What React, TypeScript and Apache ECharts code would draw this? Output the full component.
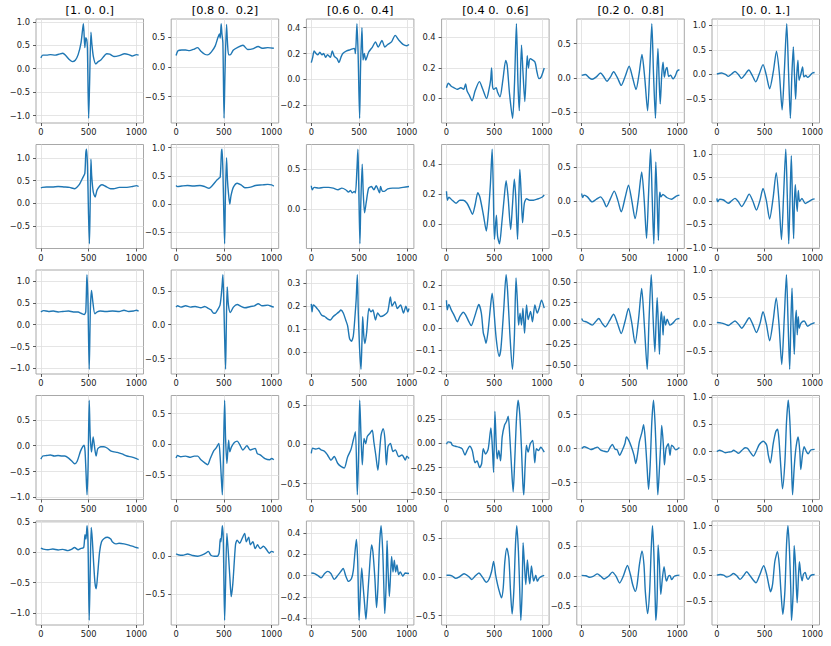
import React, { useEffect, useRef } from "react";
import * as echarts from "echarts";

type P = [number, number];

const colTitles = ["[1. 0. 0.]", "[0.8 0.  0.2]", "[0.6 0.  0.4]", "[0.4 0.  0.6]", "[0.2 0.  0.8]", "[0. 0. 1.]"];
const xTicks = [0, 500, 1000];
const xRange = [-51, 1074];

const r1c1: P[] = [[0,0.23],[20,0.29],[60,0.29],[100,0.30],[150,0.29],[190,0.31],[230,0.33],[260,0.28],[300,0.19],[330,0.15],[360,0.18],[390,0.30],[420,0.55],[445,0.96],[460,0.45],[470,0.66],[480,0.62],[487,0.44],[500,-1.06],[510,-0.3],[524,0.78],[534,0.52],[550,0.25],[575,0.1],[600,0.15],[630,0.19],[690,0.32],[720,0.31],[765,0.26],[820,0.28],[876,0.32],[920,0.3],[955,0.27],[1000,0.3],[1023,0.29]];
const r1c2: P[] = [[0,0.19],[20,0.27],[60,0.28],[100,0.28],[140,0.27],[180,0.29],[225,0.32],[260,0.26],[300,0.21],[330,0.2],[370,0.25],[410,0.35],[440,0.5],[455,0.55],[462,0.48],[472,0.72],[480,0.55],[490,0.4],[502,-0.86],[512,-0.1],[528,0.71],[538,0.4],[550,0.2],[565,0.2],[600,0.28],[650,0.33],[700,0.36],[750,0.29],[800,0.3],[860,0.34],[900,0.31],[960,0.32],[1023,0.31]];
const r1c3: P[] = [[0,0.13],[15,0.17],[30,0.22],[50,0.2],[70,0.19],[90,0.21],[110,0.19],[130,0.2],[150,0.17],[170,0.19],[200,0.17],[220,0.22],[240,0.18],[270,0.16],[290,0.13],[310,0.17],[330,0.2],[370,0.22],[410,0.23],[450,0.24],[462,0.2],[478,0.43],[490,0.2],[506,-0.3],[516,0.1],[530,0.4],[542,0.15],[555,0.2],[570,0.15],[600,0.21],[640,0.25],[672,0.29],[700,0.25],[740,0.3],[770,0.25],[800,0.27],[840,0.29],[878,0.34],[920,0.3],[960,0.27],[1000,0.26],[1023,0.27]];
const r1c4: P[] = [[0,0.07],[20,0.1],[50,0.08],[80,0.07],[110,0.06],[150,0.07],[180,0.06],[200,0.095],[215,0.05],[240,0.02],[268,-0.015],[300,0.05],[345,0.11],[380,0.06],[420,0.0],[445,0.06],[462,0.12],[472,0.2],[482,0.08],[495,0.06],[520,0.07],[535,0.04],[560,0.01],[590,0.12],[620,0.25],[635,0.22],[660,0.03],[692,-0.13],[712,0.1],[732,0.49],[748,0.1],[762,-0.08],[785,0.35],[800,0.18],[820,-0.02],[845,0.28],[858,0.2],[875,0.26],[925,0.24],[945,0.18],[968,0.13],[990,0.14],[1023,0.2]];
const r1c5: P[] = [[0,0.035],[40,0.05],[80,0.0],[110,-0.02],[150,0.01],[197,0.07],[230,0.02],[265,-0.05],[300,0.01],[334,0.09],[375,0.0],[414,-0.11],[455,0.02],[497,0.17],[530,0.02],[569,-0.17],[600,0.05],[631,0.34],[660,0.0],[690,-0.48],[712,0.1],[734,0.79],[752,0.05],[772,-0.59],[785,0.0],[798,0.43],[810,0.0],[822,-0.38],[838,0.05],[852,0.23],[865,0.01],[880,0.12],[893,0.15],[910,0.02],[930,0.04],[955,-0.015],[980,0.03],[1000,0.1],[1023,0.12]];
const r1c6: P[] = [[0,0.01],[50,0.03],[90,0.0],[120,-0.04],[155,0.01],[190,0.06],[225,0.0],[259,-0.08],[295,0.0],[334,0.09],[370,-0.02],[407,-0.15],[445,0.02],[483,0.2],[518,-0.02],[552,-0.29],[590,0.05],[624,0.47],[655,0.0],[683,-0.72],[707,0.1],[731,1.03],[750,0.05],[769,-0.89],[785,0.0],[800,0.56],[812,0.0],[824,-0.5],[836,0.0],[848,0.29],[860,-0.12],[878,0.0],[897,0.15],[910,-0.05],[930,-0.02],[950,-0.06],[975,-0.02],[1000,0.03],[1023,0.04]];

const r2c1: P[] = [[0,0.34],[15,0.35],[60,0.36],[120,0.36],[180,0.37],[240,0.36],[300,0.35],[355,0.32],[380,0.36],[405,0.42],[440,0.57],[460,0.66],[470,1.1],[478,1.19],[488,0.8],[498,-0.2],[508,-0.89],[516,0.0],[524,0.97],[532,0.6],[548,0.25],[568,0.14],[590,0.3],[640,0.41],[680,0.37],[730,0.32],[760,0.32],[820,0.35],[900,0.35],[960,0.37],[1000,0.39],[1023,0.37]];
const r2c2: P[] = [[0,0.33],[15,0.31],[60,0.32],[120,0.33],[180,0.32],[250,0.33],[300,0.31],[345,0.28],[375,0.32],[400,0.37],[430,0.43],[450,0.46],[462,0.48],[475,0.92],[481,0.97],[490,0.6],[500,-0.2],[508,-0.7],[516,0.1],[528,0.82],[538,0.42],[548,0.2],[562,0.0],[575,0.15],[600,0.3],[640,0.37],[680,0.34],[720,0.29],[780,0.3],[830,0.33],[900,0.34],[960,0.35],[1000,0.34],[1023,0.32]];
const r2c3: P[] = [[0,0.29],[10,0.24],[30,0.27],[80,0.26],[130,0.27],[180,0.27],[230,0.26],[280,0.24],[320,0.26],[360,0.24],[390,0.21],[410,0.23],[430,0.2],[450,0.22],[462,0.2],[478,0.5],[488,0.75],[496,0.35],[509,-0.44],[518,0.05],[533,0.56],[544,0.2],[558,-0.05],[575,0.08],[600,0.26],[630,0.28],[655,0.24],[680,0.29],[700,0.24],[715,0.2],[725,0.28],[745,0.22],[765,0.22],[800,0.25],[850,0.26],[900,0.26],[960,0.27],[1023,0.28]];
const r2c4: P[] = [[0,0.22],[10,0.16],[25,0.18],[60,0.16],[100,0.14],[140,0.16],[175,0.16],[215,0.14],[250,0.095],[272,0.066],[300,0.13],[328,0.21],[350,0.18],[390,0.05],[417,-0.045],[435,0.05],[460,0.27],[478,0.5],[490,0.23],[502,-0.1],[522,0.06],[535,-0.08],[555,-0.13],[578,0.0],[603,0.17],[624,0.29],[645,0.18],[672,-0.035],[690,0.12],[710,0.3],[725,0.18],[744,-0.1],[758,0.2],[768,0.365],[782,0.2],[796,0.01],[815,0.14],[838,0.17],[870,0.16],[910,0.16],[960,0.17],[1000,0.18],[1023,0.195]];
const r2c5: P[] = [[0,0.11],[10,0.05],[25,0.085],[60,0.06],[110,-0.015],[150,0.02],[197,0.06],[230,0.0],[259,-0.09],[300,0.03],[341,0.145],[380,0.0],[414,-0.165],[455,0.05],[490,0.235],[525,0.0],[559,-0.265],[595,0.05],[628,0.43],[655,0.0],[679,-0.56],[700,0.1],[721,0.77],[738,0.05],[755,-0.64],[766,0.0],[776,0.58],[790,0.0],[803,-0.59],[812,0.0],[818,0.13],[830,0.06],[850,0.095],[890,0.05],[940,0.025],[990,0.07],[1023,0.085]];
const r2c6: P[] = [[0,0.05],[8,-0.02],[30,0.03],[70,0.015],[120,-0.055],[155,0.0],[190,0.05],[225,-0.02],[259,-0.125],[300,0.0],[338,0.14],[375,0.0],[414,-0.2],[450,0.0],[483,0.26],[518,0.0],[552,-0.39],[588,0.05],[621,0.6],[650,0.0],[676,-0.83],[698,0.1],[721,1.1],[737,0.1],[752,-0.92],[765,0.0],[779,0.96],[791,0.0],[803,-0.81],[812,0.0],[821,0.34],[831,0.0],[841,-0.23],[852,0.22],[866,-0.02],[890,0.05],[925,-0.06],[960,-0.02],[1000,0.03],[1023,0.04]];

const r3c1: P[] = [[0,0.29],[30,0.32],[80,0.3],[130,0.31],[180,0.29],[230,0.3],[290,0.31],[340,0.29],[390,0.29],[420,0.26],[455,0.23],[470,0.3],[482,1.14],[492,0.6],[506,-1.02],[518,0.35],[530,0.78],[545,0.5],[565,0.25],[590,0.29],[620,0.31],[680,0.3],[750,0.31],[820,0.3],[870,0.33],[920,0.3],[970,0.31],[1000,0.33],[1023,0.31]];
const r3c2: P[] = [[0,0.26],[15,0.28],[50,0.26],[100,0.28],[150,0.26],[200,0.27],[260,0.25],[300,0.27],[340,0.24],[365,0.22],[395,0.17],[410,0.17],[430,0.21],[460,0.29],[480,0.55],[490,0.74],[500,0.3],[518,-0.66],[526,0.0],[535,0.56],[548,0.29],[568,0.18],[600,0.26],[640,0.3],[680,0.27],[720,0.25],[780,0.27],[820,0.28],[860,0.31],[900,0.28],[960,0.29],[1000,0.27],[1023,0.26]];
const r3c3: P[] = [[0,0.21],[8,0.175],[20,0.205],[40,0.2],[60,0.19],[80,0.18],[110,0.16],[140,0.155],[170,0.145],[200,0.14],[230,0.155],[260,0.165],[290,0.175],[310,0.183],[335,0.17],[360,0.14],[380,0.115],[400,0.06],[420,0.047],[440,0.07],[460,0.17],[470,0.23],[482,0.337],[492,0.17],[505,0.02],[520,-0.075],[530,0.04],[538,0.154],[550,0.07],[562,0.037],[580,0.088],[603,0.19],[625,0.175],[645,0.183],[672,0.14],[695,0.17],[725,0.155],[760,0.16],[800,0.176],[828,0.24],[845,0.2],[875,0.22],[900,0.19],[935,0.205],[965,0.17],[990,0.2],[1010,0.175],[1023,0.19]];
const r3c4: P[] = [[0,0.13],[8,0.085],[25,0.11],[50,0.085],[80,0.06],[114,0.03],[140,0.054],[176,0.074],[200,0.062],[234,0.031],[259,0.012],[285,0.04],[320,0.09],[338,0.11],[365,0.07],[385,-0.02],[400,-0.045],[414,-0.07],[435,-0.015],[459,0.093],[478,0.163],[492,0.11],[520,-0.046],[552,-0.13],[570,-0.093],[600,0.093],[624,0.248],[640,0.17],[662,-0.015],[690,-0.19],[710,-0.046],[728,0.233],[742,0.125],[755,0.015],[770,0.07],[785,0.015],[800,0.093],[817,-0.023],[838,0.108],[855,0.04],[880,0.078],[900,0.03],[925,0.108],[950,0.07],[970,0.093],[995,0.13],[1023,0.093]];
const r3c5: P[] = [[0,0.06],[15,0.03],[50,0.02],[110,-0.02],[145,0.02],[179,0.06],[215,0.0],[248,-0.04],[290,0.03],[334,0.11],[375,0.0],[414,-0.12],[455,0.03],[490,0.18],[525,0.0],[559,-0.24],[595,0.05],[628,0.42],[655,0.0],[686,-0.55],[705,0.05],[728,0.585],[748,0.05],[766,-0.34],[778,0.0],[790,0.31],[802,0.0],[814,-0.37],[824,0.0],[834,0.14],[845,0.0],[852,-0.14],[862,0.09],[878,-0.02],[895,0.05],[925,-0.02],[960,0.01],[990,0.05],[1023,0.06]];
const r3c6: P[] = [[0,0.03],[50,0.02],[85,0.0],[120,-0.025],[155,0.02],[190,0.06],[225,0.0],[259,-0.075],[300,0.02],[338,0.12],[375,0.0],[414,-0.155],[450,0.0],[483,0.23],[518,0.0],[552,-0.31],[588,0.05],[621,0.49],[650,0.0],[679,-0.75],[705,0.1],[728,0.92],[745,0.05],[762,-0.84],[774,0.0],[786,0.67],[798,0.0],[810,-0.56],[820,0.0],[831,0.26],[841,-0.2],[852,0.14],[862,-0.075],[880,0.02],[914,0.06],[950,-0.04],[985,0.0],[1023,0.03]];

const r4c1: P[] = [[0,-0.26],[20,-0.2],[60,-0.19],[100,-0.18],[140,-0.2],[180,-0.19],[220,-0.2],[250,-0.2],[290,-0.24],[330,-0.31],[352,-0.35],[380,-0.3],[414,-0.11],[438,-0.02],[452,0.01],[462,-0.1],[472,-0.5],[483,-0.95],[494,-0.4],[506,0.88],[516,0.2],[530,-0.12],[547,0.17],[560,0.0],[578,-0.2],[595,-0.06],[628,-0.02],[660,-0.02],[697,-0.05],[730,-0.1],[766,-0.12],[800,-0.13],[850,-0.16],[900,-0.2],[955,-0.22],[1000,-0.25],[1023,-0.27]];
const r4c2: P[] = [[0,-0.22],[15,-0.18],[50,-0.2],[100,-0.19],[150,-0.21],[190,-0.19],[227,-0.19],[260,-0.25],[300,-0.3],[330,-0.33],[360,-0.22],[395,-0.1],[418,-0.06],[447,0.015],[460,-0.17],[472,-0.5],[484,-0.82],[494,-0.3],[508,0.72],[518,0.1],[532,-0.31],[550,0.07],[562,-0.12],[580,-0.04],[610,0.03],[640,0.054],[665,0.0],[700,-0.09],[742,-0.02],[775,-0.09],[828,-0.065],[850,-0.15],[880,-0.17],[930,-0.23],[980,-0.25],[1000,-0.23],[1023,-0.25]];
const r4c3: P[] = [[0,-0.115],[15,-0.05],[50,-0.06],[80,-0.05],[103,-0.07],[140,-0.09],[170,-0.135],[207,-0.2],[240,-0.155],[276,-0.24],[310,-0.28],[345,-0.3],[380,-0.16],[414,-0.07],[440,0.055],[462,0.16],[482,-0.64],[496,-0.09],[507,0.56],[520,0.12],[534,-0.26],[552,0.075],[570,0.01],[586,0.1],[614,0.14],[638,0.18],[655,0.03],[675,-0.135],[697,-0.33],[715,-0.09],[731,0.12],[752,0.2],[770,0.075],[786,-0.26],[803,-0.03],[828,0.012],[855,-0.09],[880,-0.07],[915,-0.155],[950,-0.135],[985,-0.2],[1000,-0.15],[1023,-0.18]];
const r4c4: P[] = [[0,-0.01],[15,0.015],[45,0.01],[62,-0.02],[95,-0.03],[132,-0.04],[165,-0.056],[194,-0.12],[215,-0.074],[243,-0.03],[270,-0.074],[299,-0.2],[320,-0.18],[347,-0.25],[368,-0.21],[385,-0.056],[410,-0.11],[437,-0.056],[465,0.16],[479,-0.02],[493,-0.3],[507,0.33],[521,-0.02],[531,-0.16],[548,-0.074],[566,-0.18],[583,0.067],[608,0.19],[628,0.225],[646,0.28],[663,0.067],[681,-0.25],[698,-0.5],[715,-0.16],[733,0.26],[750,0.445],[767,0.3],[785,-0.056],[799,-0.41],[809,-0.53],[823,-0.23],[837,-0.02],[854,-0.09],[878,0.0],[903,0.03],[924,-0.2],[941,-0.056],[965,-0.074],[986,-0.04],[1023,-0.09]];
const r4c5: P[] = [[0,0.0],[25,0.025],[60,0.01],[95,-0.015],[130,0.0],[165,0.02],[200,-0.025],[235,-0.04],[269,-0.05],[300,0.025],[321,0.06],[350,-0.01],[372,-0.02],[397,-0.1],[425,-0.025],[452,0.07],[469,0.17],[493,0.12],[520,0.025],[548,-0.1],[566,-0.22],[583,-0.1],[604,0.1],[631,0.24],[648,0.35],[665,0.146],[683,-0.24],[700,-0.6],[717,-0.24],[734,0.39],[752,0.71],[769,0.34],[786,-0.29],[797,-0.68],[814,-0.29],[831,0.17],[838,0.34],[855,0.05],[866,-0.24],[883,0.0],[907,0.07],[924,-0.1],[941,0.05],[960,0.025],[985,-0.02],[1023,0.015]];
const r4c6: P[] = [[0,0.0],[25,0.025],[55,0.01],[87,-0.02],[120,-0.01],[155,0.0],[174,0.025],[200,0.0],[226,-0.03],[260,0.02],[295,0.07],[320,0.06],[345,0.0],[382,-0.08],[417,0.03],[444,0.13],[486,0.19],[521,0.12],[538,-0.06],[559,-0.21],[590,0.15],[615,0.36],[635,0.41],[649,0.24],[670,-0.3],[687,-0.68],[712,-0.18],[729,0.55],[747,0.94],[764,0.55],[781,-0.24],[792,-0.79],[809,-0.3],[823,0.0],[837,0.18],[851,0.27],[868,0.0],[878,-0.33],[896,-0.06],[913,0.09],[937,0.0],[955,-0.04],[983,0.03],[1023,0.04]];

const r5c1: P[] = [[0,0.07],[25,0.055],[75,0.044],[125,0.055],[180,0.04],[230,0.05],[283,0.03],[320,0.05],[352,0.08],[390,0.044],[420,0.066],[448,0.08],[462,0.29],[472,0.22],[483,0.44],[493,0.17],[506,-1.12],[516,-0.33],[527,0.41],[538,0.22],[552,-0.17],[566,-0.5],[579,-0.6],[593,-0.39],[614,0.0],[634,0.17],[662,0.23],[697,0.25],[731,0.22],[750,0.17],[783,0.14],[818,0.15],[870,0.14],[921,0.12],[972,0.094],[1000,0.08],[1023,0.07]];
const r5c2: P[] = [[0,0.03],[20,0.02],[70,0.013],[120,0.03],[175,0.01],[227,0.0],[280,0.02],[310,0.04],[337,0.064],[365,0.013],[400,0.0],[430,0.0],[450,0.04],[463,0.23],[470,0.19],[484,0.4],[494,0.23],[508,-0.84],[518,-0.36],[532,0.3],[546,0.064],[563,-0.28],[577,-0.53],[594,-0.36],[622,0.15],[639,0.21],[666,0.17],[690,0.23],[718,0.3],[735,0.19],[760,0.25],[777,0.15],[804,0.19],[828,0.1],[852,0.15],[880,0.1],[915,0.13],[948,0.085],[976,0.04],[1000,0.064],[1023,0.05]];
const r5c3: P[] = [[0,0.025],[35,0.02],[70,0.0],[103,-0.02],[140,0.02],[172,0.04],[205,0.02],[241,-0.035],[275,0.0],[310,0.04],[334,0.067],[360,0.0],[390,-0.054],[420,-0.03],[440,0.05],[458,0.23],[472,0.34],[486,0.13],[500,-0.42],[514,-0.155],[528,0.073],[542,-0.09],[559,-0.28],[572,-0.41],[586,-0.25],[607,0.035],[631,0.29],[645,0.225],[666,-0.03],[683,-0.3],[697,-0.12],[714,0.29],[731,0.47],[748,0.225],[759,-0.09],[769,-0.355],[783,-0.09],[793,0.33],[803,0.067],[817,-0.195],[831,0.035],[841,0.18],[855,0.035],[869,0.146],[883,0.035],[897,0.1],[914,0.01],[931,0.035],[959,-0.005],[983,0.025],[1023,0.02]];
const r5c4: P[] = [[0,0.02],[30,0.02],[62,0.01],[97,-0.02],[135,0.0],[184,0.04],[236,0.0],[264,-0.034],[300,0.01],[340,0.05],[375,0.0],[417,-0.07],[444,-0.034],[472,0.07],[493,0.2],[514,0.03],[535,-0.1],[556,-0.2],[576,-0.27],[594,-0.14],[611,0.2],[632,0.37],[653,0.24],[670,-0.18],[687,-0.48],[705,-0.18],[722,0.41],[736,0.66],[753,0.33],[767,-0.18],[778,-0.56],[792,-0.18],[802,0.44],[816,0.16],[830,-0.1],[847,0.22],[861,0.01],[872,-0.09],[889,0.14],[903,0.01],[913,-0.055],[934,0.02],[951,-0.055],[972,-0.013],[1000,0.01],[1023,0.02]];
const r5c5: P[] = [[0,0.016],[45,0.01],[79,-0.016],[120,0.0],[165,0.04],[200,0.0],[234,-0.044],[280,0.0],[321,0.07],[360,0.0],[397,-0.11],[435,0.0],[479,0.18],[510,0.03],[534,-0.14],[562,-0.25],[580,-0.14],[604,0.19],[631,0.42],[652,0.19],[666,-0.25],[690,-0.62],[711,-0.25],[728,0.46],[741,0.84],[755,0.41],[769,-0.36],[776,-0.73],[790,-0.36],[800,0.52],[814,0.19],[828,-0.3],[845,-0.03],[862,0.16],[879,-0.03],[889,-0.08],[907,0.0],[924,0.016],[941,-0.055],[969,0.0],[1000,0.016],[1023,0.02]];
const r5c6: P[] = [[0,0.013],[35,0.026],[70,0.013],[104,-0.026],[140,0.0],[174,0.046],[208,0.0],[243,-0.073],[278,0.0],[312,0.08],[347,0.0],[410,-0.14],[445,0.0],[490,0.2],[521,0.026],[545,-0.2],[562,-0.32],[583,-0.17],[607,0.29],[634,0.48],[653,0.22],[670,-0.3],[690,-0.77],[712,-0.3],[729,0.62],[744,1.0],[760,0.49],[774,-0.3],[781,-0.89],[799,-0.3],[809,0.6],[823,0.22],[840,-0.54],[854,0.0],[864,0.28],[878,0.03],[892,-0.1],[906,0.03],[924,0.066],[941,-0.04],[955,-0.073],[979,0.0],[1000,0.02],[1023,0.026]];

const panelRows: P[][][] = [
  [r1c1, r1c2, r1c3, r1c4, r1c5, r1c6],
  [r2c1, r2c2, r2c3, r2c4, r2c5, r2c6],
  [r3c1, r3c2, r3c3, r3c4, r3c5, r3c6],
  [r4c1, r4c2, r4c3, r4c4, r4c5, r4c6],
  [r5c1, r5c2, r5c3, r5c4, r5c5, r5c6],
];

const yStepRows: number[][] = [
  [0.5, 0.5, 0.2, 0.2, 0.5, 0.5],
  [0.5, 0.5, 0.5, 0.2, 0.5, 0.5],
  [0.5, 0.5, 0.1, 0.1, 0.25, 0.5],
  [0.5, 0.5, 0.5, 0.25, 0.5, 0.5],
  [0.5, 0.5, 0.2, 0.5, 0.5, 0.5],
];

const FONT = "DejaVu Sans";
const NY = 1000;

function stepTicks(lo: number, hi: number, step: number): number[] {
  const out: number[] = [];
  const k0 = Math.ceil(lo / step - 1e-9);
  const k1 = Math.floor(hi / step + 1e-9);
  for (let k = k0; k <= k1; k++) out.push(Number((k * step).toFixed(6)));
  return out;
}

function fmtY(v: number, dec: number): string {
  if (Math.abs(v) < 1e-9) return (0).toFixed(dec);
  return v.toFixed(dec).replace("-", "\u2212");
}

function buildOption() {
  const grids: any[] = [];
  const xAxes: any[] = [];
  const yAxes: any[] = [];
  const series: any[] = [];
  const graphics: any[] = [];
  const left0 = 36, colGap = 135.2, w = 107.5;
  const top0 = 19, rowGap = 125.5, h = 104;

  // scaffold for x tick positions: one category per unit from min to max
  const xCats: string[] = [];
  for (let v = xRange[0]; v <= xRange[1]; v++) xCats.push(String(v));
  const xTickSet = new Set(xTicks.map(String));
  const yCats: string[] = [];
  for (let k = 0; k <= NY; k++) yCats.push(String(k));

  const tickLine = { color: "#333", width: 0.8 };
  const gridLine = { color: "#dedede", width: 0.8 };
  const labelBase = { fontSize: 8.3, color: "#222", fontFamily: FONT };

  colTitles.forEach((t, c) => {
    graphics.push({
      type: "text",
      x: left0 + c * colGap + w / 2,
      y: 10,
      style: { text: t, fill: "#000", font: `11.3px "${FONT}"`, textAlign: "center", textVerticalAlign: "middle" },
    });
  });

  panelRows.forEach((row, r) => {
    row.forEach((data, c) => {
      const i = r * 6 + c;
      const step = yStepRows[r][c];
      const dec = Math.abs(step * 10 - Math.round(step * 10)) > 1e-9 ? 2 : 1;
      const ys = data.map((p) => p[1]);
      const mn = Math.min(...ys), mx = Math.max(...ys);
      const pad = (mx - mn) * 0.05;
      const lo = mn - pad, hi = mx + pad;
      const yTicks = stepTicks(lo, hi, step);
      const yIdx = new Map<number, string>();
      yTicks.forEach((t) => yIdx.set(Math.round(((t - lo) / (hi - lo)) * NY), fmtY(t, dec)));

      grids.push({
        left: left0 + c * colGap,
        top: top0 + r * rowGap,
        width: w,
        height: h,
        show: true,
        borderColor: "#a8a8a8",
        borderWidth: 1,
        backgroundColor: "transparent",
        containLabel: false,
        outerBoundsMode: "none",
      });

      // data axes (hidden)
      xAxes.push({ type: "value", gridIndex: i, min: xRange[0], max: xRange[1], show: false });
      yAxes.push({ type: "value", gridIndex: i, min: lo, max: hi, show: false });

      // tick / label / grid-line axes
      const xSel = (_idx: number, val: string) => xTickSet.has(val);
      xAxes.push({
        type: "category",
        gridIndex: i,
        position: "bottom",
        boundaryGap: false,
        data: xCats,
        axisLine: { show: false },
        axisTick: { show: true, length: 3, interval: xSel, lineStyle: tickLine },
        axisLabel: { ...labelBase, margin: 5, interval: xSel },
        splitLine: { show: true, interval: xSel, lineStyle: gridLine },
        z: 1,
      });
      const ySel = (idx: number) => yIdx.has(idx);
      yAxes.push({
        type: "category",
        gridIndex: i,
        position: "left",
        boundaryGap: false,
        data: yCats,
        axisLine: { show: false },
        axisTick: { show: true, length: 3, interval: ySel, lineStyle: tickLine },
        axisLabel: { ...labelBase, margin: 6, interval: ySel, formatter: (_v: string, idx: number) => yIdx.get(idx) ?? "" },
        splitLine: { show: true, interval: ySel, lineStyle: gridLine },
        z: 1,
      });

      series.push({
        type: "line",
        xAxisIndex: 2 * i,
        yAxisIndex: 2 * i,
        data,
        showSymbol: false,
        symbol: "none",
        smooth: 0.25,
        clip: true,
        z: 3,
        lineStyle: { color: "#1f77b4", width: 1.4 },
      });
    });
  });

  return {
    animation: false,
    backgroundColor: "#ffffff",
    grid: grids,
    xAxis: xAxes,
    yAxis: yAxes,
    series,
    graphic: graphics,
  };
}

export default function App() {
  const ref = useRef<HTMLDivElement>(null);
  useEffect(() => {
    if (!ref.current) return;
    const chart = echarts.init(ref.current, undefined, { renderer: "svg" });
    chart.setOption(buildOption() as any);
    return () => chart.dispose();
  }, []);
  return <div ref={ref} style={{ position: "fixed", left: 0, top: 0, width: 831, height: 646, background: "#fff" }} />;
}
